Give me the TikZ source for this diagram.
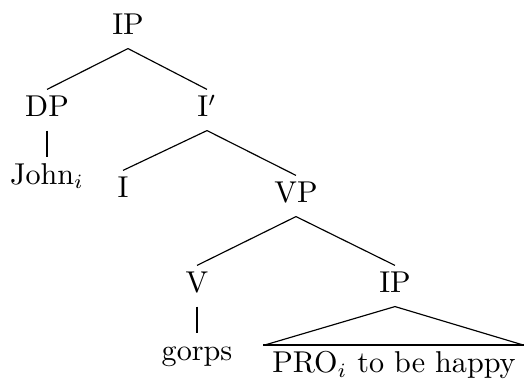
\documentclass[tikz,border=0pt]{standalone}
\usetikzlibrary{positioning}
\tikzstyle{cat} = [font=\fontsize{10.4}{12}\selectfont, inner xsep=0pt, inner ysep=1pt, text height=8.3pt, text depth=3.5pt]
\tikzstyle{branch} = [line width=0.4pt]
\tikzstyle{stem} = [line width=1pt]
\tikzstyle{roof} = [line width=0.7pt]

\begin{document}
\begin{tikzpicture}[x=0.345pt,y=-0.345pt,node distance=23.3pt]
  \useasboundingbox (0,0) rectangle (524,383);
  \node[cat] (ip) at (128,28) {IP};
  \node[cat] (dp) at (47,110) {DP};
  \node[cat] (ibar) at (207,110) {I$'$};
  \node[cat,below of=dp] (john) {John$_i$};
  \node[cat] (i) at (123,191) {I};
  \node[cat] (vp) at (296,196) {VP};
  \node[cat] (v) at (197,286) {V};
  \node[cat] (ip2) at (395,286) {IP};
  \node[cat,below of=v] (gorps) {gorps};
  \node[cat,minimum width=89.7pt] (pro) at (394,366) {PRO$_i$ to be happy};
  % branches
  \draw[branch] (ip.south) -- (dp.north);
  \draw[branch] (ip.south) -- (ibar.north);
  \draw[branch] (ibar.south) -- (i.north);
  \draw[branch] (ibar.south) -- (vp.north);
  \draw[branch] (vp.south) -- (v.north);
  \draw[branch] (vp.south) -- (ip2.north);
  % lexical stems
  \draw[stem] (dp.south) -- (john.north);
  \draw[stem] (v.south) -- (gorps.north);
  % triangle over the clause
  \draw[branch] (pro.north west) -- (ip2.south) -- (pro.north east);
  \draw[roof] (pro.north west) -- (pro.north east);
\end{tikzpicture}
\end{document}
